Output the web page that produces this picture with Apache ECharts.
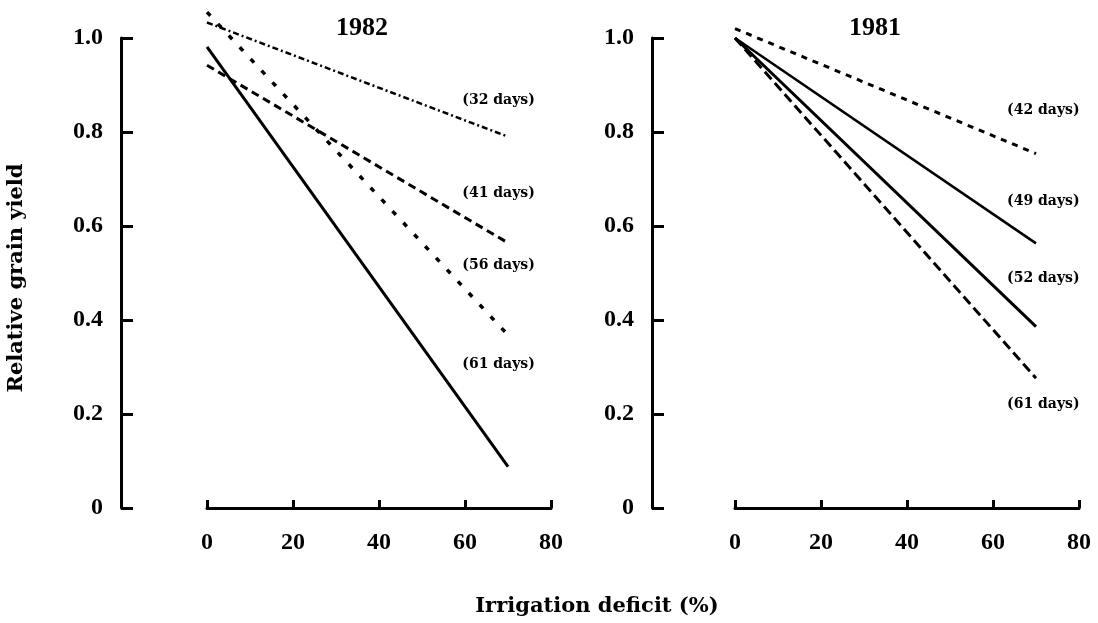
<!DOCTYPE html>
<html><head><meta charset="utf-8">
<script src="https://cdn.jsdelivr.net/npm/echarts@6/dist/echarts.min.js"></script>
<style>html,body{margin:0;padding:0;background:#fff}#c{width:1098px;height:623px}</style>
</head><body><div id="c"></div>
<script>
// ---- data ----
const xTicks = [0, 20, 40, 60, 80];
const yTicks = [0, 0.2, 0.4, 0.6, 0.8, 1.0];
const xEnds = [0, 70]; // irrigation deficit (%) at line start / end

// 1982 season
const y1982_32 = [1.033, 0.790];
const y1982_41 = [0.942, 0.564];
const y1982_56 = [1.055, 0.368];
const y1982_61 = [0.981, 0.088];
const labels1982 = ['(32 days)', '(41 days)', '(56 days)', '(61 days)'];
const labelX1982 = [67.8, 67.8, 67.8, 67.8];
const labelY1982 = [0.867, 0.669, 0.517, 0.305];

// 1981 season
const y1981_42 = [1.02, 0.754];
const y1981_49 = [1.0, 0.563];
const y1981_52 = [1.0, 0.386];
const y1981_61 = [1.0, 0.276];
const labels1981 = ['(42 days)', '(49 days)', '(52 days)', '(61 days)'];
const labelX1981 = [71.7, 71.7, 71.7, 71.7];
const labelY1981 = [0.846, 0.652, 0.489, 0.22];

const years = ['1982', '1981'];
const xTitle = 'Irrigation deficit (%)';
const yTitle = 'Relative grain yield';

// ---- chart ----
const tickFont = { fontFamily: '"Liberation Serif", serif', fontWeight: 'bold', fontSize: 24, color: '#000' };
function pts(ys) { return xEnds.map((x, i) => [x, ys[i]]); }
function xAx(gi) {
  return {
    gridIndex: gi, type: 'value', min: 0, max: 80, interval: 20,
    axisLine: { show: true, lineStyle: { color: '#000', width: 3 } },
    axisTick: { show: true, inside: true, length: 8, lineStyle: { color: '#000', width: 3 } },
    axisLabel: Object.assign({ margin: 23 }, tickFont),
    splitLine: { show: false }
  };
}
function yAx(gi, off) {
  return {
    gridIndex: gi, type: 'value', min: 0, max: 1, interval: 0.2, offset: off,
    axisLine: { show: true, onZero: false, lineStyle: { color: '#000', width: 3 } },
    axisTick: { show: true, inside: true, length: 12, lineStyle: { color: '#000', width: 3 } },
    axisLabel: Object.assign({ margin: 18, formatter: v => v === 0 ? '0' : v.toFixed(1) }, tickFont),
    splitLine: { show: false }
  };
}
function line(gi, ys, type, width) {
  return {
    type: 'line', xAxisIndex: gi, yAxisIndex: gi, data: pts(ys), showSymbol: false, symbol: 'none',
    clip: false, silent: true, animation: false,
    lineStyle: { color: '#000', width: width, type: type, cap: 'butt' }
  };
}
function lbls(gi, names, xs, ys) {
  return {
    type: 'scatter', xAxisIndex: gi, yAxisIndex: gi, symbolSize: 0, clip: false, silent: true, animation: false,
    itemStyle: { color: '#000' },
    data: names.map((n, i) => ({ value: [xs[i], ys[i]], name: n })),
    label: {
      show: true, position: 'inside', formatter: p => p.name, opacity: 1,
      textBorderWidth: 0, textShadowBlur: 0,
      fontFamily: '"DejaVu Serif", serif', fontWeight: 'bold', fontSize: 14, color: '#000'
    }
  };
}

const chart = echarts.init(document.getElementById('c'), null, { renderer: 'canvas' });
chart.setOption({
  animation: false,
  backgroundColor: '#fff',
  grid: [
    { left: 207, top: 38, width: 344, height: 470 },
    { left: 735, top: 38, width: 344, height: 470 }
  ],
  xAxis: [xAx(0), xAx(1)],
  yAxis: [yAx(0, 86), yAx(1, 83)],
  graphic: [
    { type: 'text', x: 362, y: 28, style: { text: years[0], align: 'center', verticalAlign: 'middle', font: 'bold 26px "Liberation Serif", serif', fill: '#000' } },
    { type: 'text', x: 875, y: 28, style: { text: years[1], align: 'center', verticalAlign: 'middle', font: 'bold 26px "Liberation Serif", serif', fill: '#000' } },
    { type: 'text', x: 597, y: 607, style: { text: xTitle, align: 'center', verticalAlign: 'middle', font: 'bold 21px "DejaVu Serif", serif', fill: '#000' } },
    { type: 'text', x: 17, y: 278, rotation: Math.PI / 2, style: { text: yTitle, align: 'center', verticalAlign: 'middle', font: 'bold 21px "DejaVu Serif", serif', fill: '#000' } }
  ],
  series: [
    line(0, y1982_32, [6, 3, 2, 3], 2.5),
    line(0, y1982_41, [8, 5], 3),
    line(0, y1982_56, [5, 11], 3.5),
    line(0, y1982_61, 'solid', 3),
    lbls(0, labels1982, labelX1982, labelY1982),
    line(1, y1981_42, [6, 6], 3),
    line(1, y1981_49, 'solid', 2.5),
    line(1, y1981_52, 'solid', 3),
    line(1, y1981_61, [10, 5], 3),
    lbls(1, labels1981, labelX1981, labelY1981)
  ]
});
</script>
</body></html>
